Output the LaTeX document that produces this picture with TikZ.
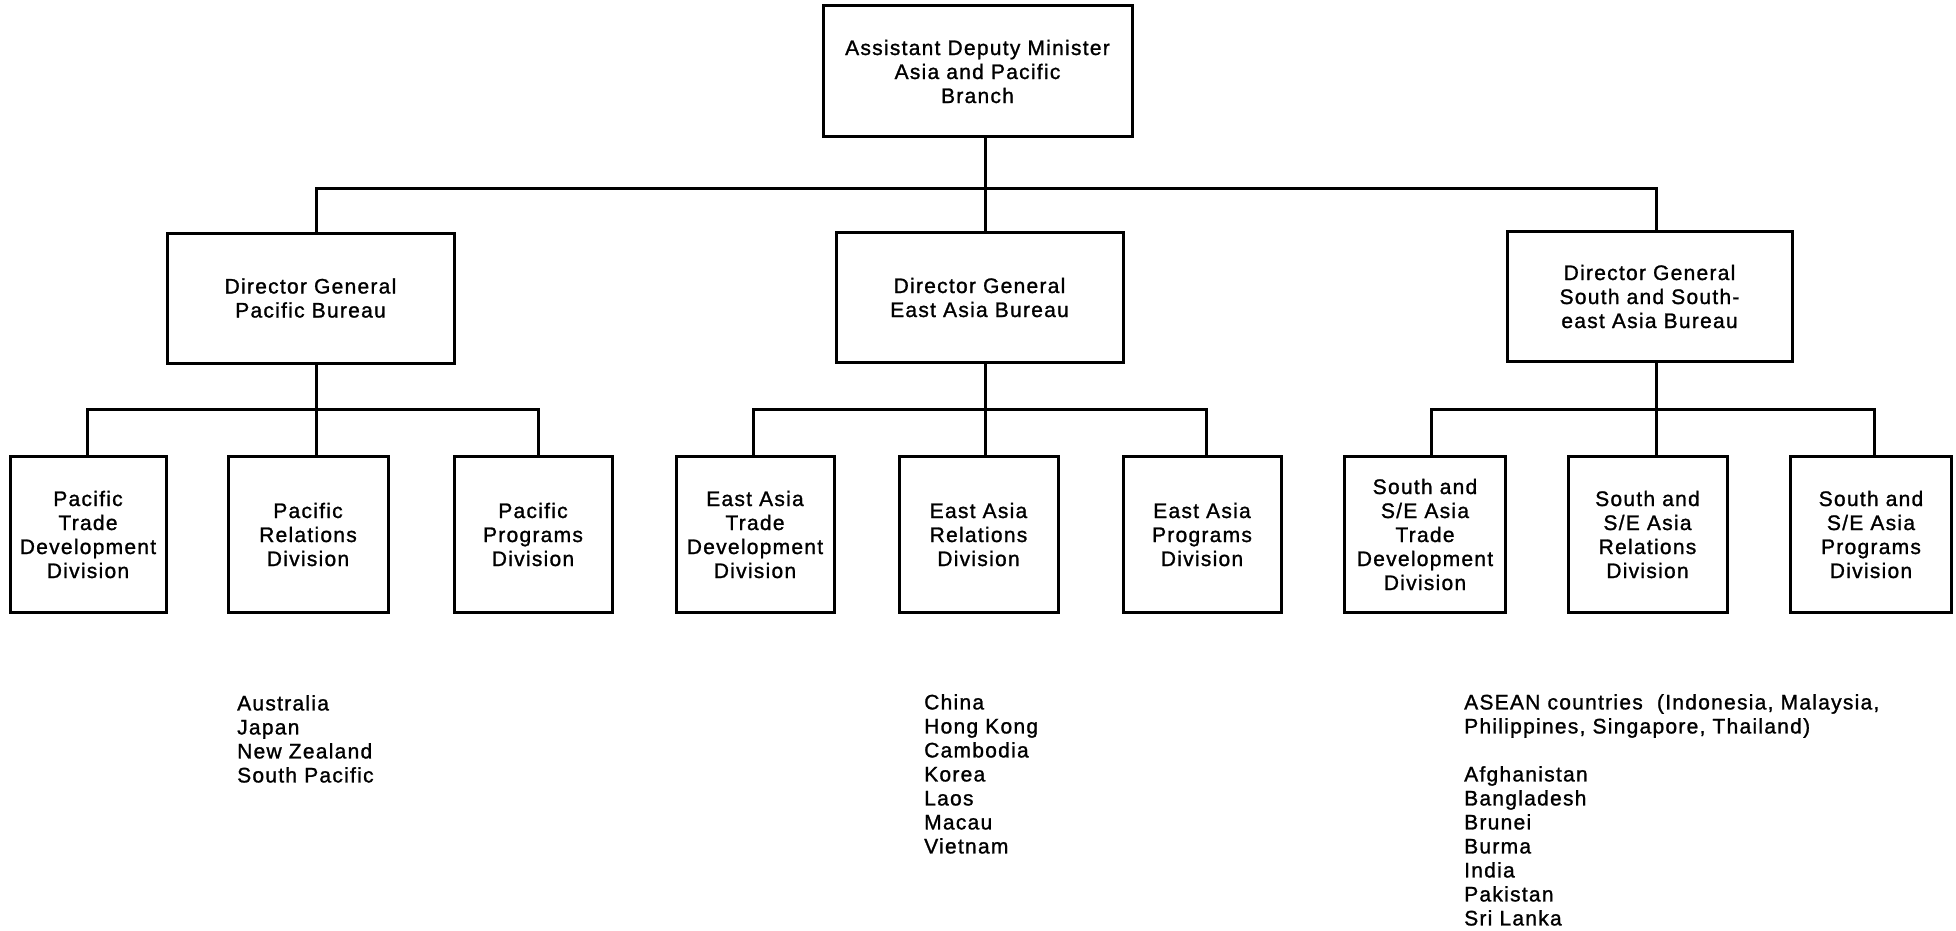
\documentclass[tikz,border=0pt]{standalone}
\usepackage{fontspec}
\setmainfont{Liberation Sans}[LetterSpace=6,FakeBold=1.2]
\begin{document}
\begin{tikzpicture}[x=1pt,y=-1pt,
  every node/.style={font=\fontsize{21}{24}\selectfont},
  unit/.style={draw,line width=3pt,align=center,inner sep=0pt,
    minimum width=#1,minimum height=130pt},
  division/.style={draw,line width=3pt,align=center,inner sep=0pt,
    minimum width=#1,minimum height=156pt},
  countries/.style={anchor=north west,align=left,inner sep=0pt},
  link/.style={line width=3pt}]
\useasboundingbox (0,0) rectangle (1956,931);

% branch head
\node[unit=309pt,minimum height=131pt] (adm) at (977.5,71.5) {Assistant Deputy Minister\\Asia and Pacific\\Branch};

% bureaus
\node[unit=287pt] (dgp) at (310.5,298) {Director General\\Pacific Bureau};
\node[unit=287pt] (dge) at (979.5,297.5) {Director General\\East Asia Bureau};
\node[unit=285pt] (dgs) at (1649.5,296.5) {Director General\\South and South-\\east Asia Bureau};

% divisions
\node[division=156pt] (pt) at (88,534.5) {Pacific\\Trade\\Development\\Division};
\node[division=160pt] (pr) at (308,534.5) {Pacific\\Relations\\Division};
\node[division=158pt] (pp) at (533,534.5) {Pacific\\Programs\\Division};

\node[division=158pt] (et) at (755,534.5) {East Asia\\Trade\\Development\\Division};
\node[division=159pt] (er) at (978.5,534.5) {East Asia\\Relations\\Division};
\node[division=158pt] (ep) at (1202,534.5) {East Asia\\Programs\\Division};

\node[division=161pt] (st) at (1425,534.5) {South and\\S/E Asia\\Trade\\Development\\Division};
\node[division=159pt] (sr) at (1647.5,534.5) {South and\\S/E Asia\\Relations\\Division};
\node[division=161pt] (sp) at (1871,534.5) {South and\\S/E Asia\\Programs\\Division};

% bus levels
\coordinate (bus0) at (0,188);
\coordinate (bus1) at (0,409);

% branch head to bureaus
\foreach \c/\cs in {dgp/5.5,dge/5.5,dgs/6.5}
  \draw[link] ([xshift=8pt]adm.south) -- ([xshift=8pt]adm.south |- bus0)
    -| ([xshift=\cs pt]\c.north);

% bureaus to divisions
\foreach \p/\ps/\c/\cs in {dgp/5.5/pt/-1,dgp/5.5/pr/8,dgp/5.5/pp/5,
    dge/5.5/et/-2,dge/5.5/er/6.5,dge/5.5/ep/4,
    dgs/6.5/st/6,dgs/6.5/sr/8.5,dgs/6.5/sp/3}
  \draw[link] ([xshift=\ps pt]\p.south) -- ([xshift=\ps pt]\p.south |- bus1)
    -| ([xshift=\cs pt]\c.north);

% country lists
\node[countries] (lp) at (237,695) {Australia\\Japan\\New Zealand\\South Pacific};
\node[countries] (le) at (924,694) {China\\Hong Kong\\Cambodia\\Korea\\Laos\\Macau\\Vietnam};
\node[countries] (ls) at (1464,694) {ASEAN countries\ \ (Indonesia, Malaysia,\\Philippines, Singapore, Thailand)\\[24pt]Afghanistan\\Bangladesh\\Brunei\\Burma\\India\\Pakistan\\Sri Lanka};
\end{tikzpicture}
\end{document}
